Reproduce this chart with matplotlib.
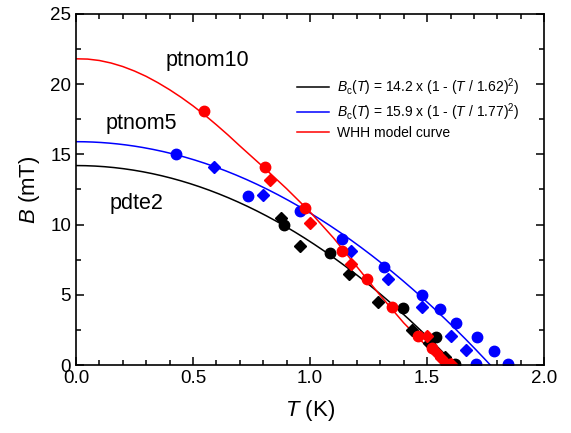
import numpy as np
import matplotlib
matplotlib.use("Agg")
import matplotlib.pyplot as plt
from matplotlib.ticker import MultipleLocator

plt.rcParams['font.family'] = ['Liberation Sans', 'DejaVu Sans']
plt.rcParams['mathtext.fontset'] = 'custom'
plt.rcParams['mathtext.rm'] = 'Liberation Sans'
plt.rcParams['mathtext.it'] = 'Liberation Sans:italic'

# pdte2 (black)
pdte2_circ_T = [0.887, 1.087, 1.395, 1.54, 1.62]
pdte2_circ_B = [10.0, 8.0, 4.05, 2.0, 0.1]
pdte2_dia_T = [0.878, 0.958, 1.168, 1.29, 1.434, 1.51, 1.575]
pdte2_dia_B = [10.5, 8.5, 6.5, 4.5, 2.5, 1.55, 0.55]

# ptnom10 (red)
ptnom10_circ_T = [0.546, 0.806, 0.977, 1.135, 1.245, 1.348, 1.46, 1.523, 1.58, 1.595]
ptnom10_circ_B = [18.1, 14.1, 11.2, 8.1, 6.1, 4.1, 2.1, 1.2, 0.1, 0.05]
ptnom10_dia_T = [0.828, 0.998, 1.177, 1.50, 1.54, 1.56, 1.60]
ptnom10_dia_B = [13.2, 10.1, 7.2, 2.1, 0.95, 0.5, 0.1]

# ptnom5 (blue)
ptnom5_circ_T = [0.426, 0.737, 0.955, 1.138, 1.317, 1.477, 1.556, 1.625, 1.715, 1.787, 1.709, 1.847]
ptnom5_circ_B = [15.0, 12.0, 11.0, 9.0, 7.0, 5.0, 4.0, 3.0, 2.0, 1.0, 0.05, 0.05]
ptnom5_dia_T = [0.589, 0.797, 1.177, 1.335, 1.477, 1.60, 1.667]
ptnom5_dia_B = [14.1, 12.1, 8.1, 6.1, 4.1, 2.1, 1.07]

# WHH model curve
whh_T = [0, 0.05, 0.1, 0.15, 0.2, 0.25, 0.3, 0.35, 0.4, 0.45, 0.5, 0.55, 0.6, 0.65, 0.7,
         0.8, 0.9, 1.0, 1.1, 1.2, 1.3, 1.4, 1.5, 1.58]
whh_B = [21.8, 21.78, 21.68, 21.5, 21.25, 20.93, 20.55, 20.1, 19.6, 19.05, 18.45, 17.8, 17.1,
         16.37, 15.6, 14.1, 12.55, 10.9, 9.05, 7.0, 4.95, 3.0, 1.3, 0.0]

# fit parameters
fit_black = (14.2, 1.62)
fit_blue = (15.9, 1.77)

fig = plt.figure(figsize=(5.71, 4.33), dpi=100)
ax = fig.add_axes([0.133, 0.157, 0.820, 0.811])

t1 = np.linspace(0, fit_black[1], 200)
t2 = np.linspace(0, fit_blue[1], 200)
ax.plot(t1, fit_black[0] * (1 - (t1 / fit_black[1])**2), color='black', lw=1.1,
        label=r'$B_\mathrm{c}$($T$) = 14.2 x (1 - ($T$ / 1.62)$^2$)')
ax.plot(t2, fit_blue[0] * (1 - (t2 / fit_blue[1])**2), color='blue', lw=1.1,
        label=r'$B_\mathrm{c}$($T$) = 15.9 x (1 - ($T$ / 1.77)$^2$)')
ax.plot(whh_T, whh_B, color='red', lw=1.1, label='WHH model curve')

ms_c, ms_d = 7.5, 6.3
ax.plot(pdte2_circ_T, pdte2_circ_B, 'o', color='black', ms=ms_c)
ax.plot(pdte2_dia_T, pdte2_dia_B, 'D', color='black', ms=ms_d)
ax.plot(ptnom5_circ_T, ptnom5_circ_B, 'o', color='blue', ms=ms_c)
ax.plot(ptnom5_dia_T, ptnom5_dia_B, 'D', color='blue', ms=ms_d)
ax.plot(ptnom10_circ_T, ptnom10_circ_B, 'o', color='red', ms=ms_c)
ax.plot(ptnom10_dia_T, ptnom10_dia_B, 'D', color='red', ms=ms_d)

ax.text(0.56, 21.7, 'ptnom10', fontsize=15.5, ha='center', va='center')
ax.text(0.28, 17.2, 'ptnom5', fontsize=15.5, ha='center', va='center')
ax.text(0.26, 11.5, 'pdte2', fontsize=15.5, ha='center', va='center')

ax.set_xlim(0, 2.0)
ax.set_ylim(0, 25)
ax.xaxis.set_major_locator(MultipleLocator(0.5))
ax.xaxis.set_minor_locator(MultipleLocator(0.1))
ax.yaxis.set_major_locator(MultipleLocator(5))
ax.yaxis.set_minor_locator(MultipleLocator(2.5))
ax.xaxis.set_major_formatter(plt.FormatStrFormatter('%.1f'))
ax.tick_params(which='both', direction='in', top=True, right=True, labelsize=13.5, width=1.1)
ax.tick_params(which='major', length=6)
ax.tick_params(which='minor', length=3.5)
for s in ax.spines.values():
    s.set_linewidth(1.2)

ax.set_xlabel(r'$T$ (K)', fontsize=16, labelpad=8)
ax.set_ylabel(r'$B$ (mT)', fontsize=16, labelpad=6)

ax.legend(loc='upper left', bbox_to_anchor=(0.472, 0.822), frameon=False, fontsize=10,
          handlelength=2.3, handletextpad=0.55, labelspacing=0.22, borderpad=0, borderaxespad=0)

fig.savefig('out.png', dpi=100)
